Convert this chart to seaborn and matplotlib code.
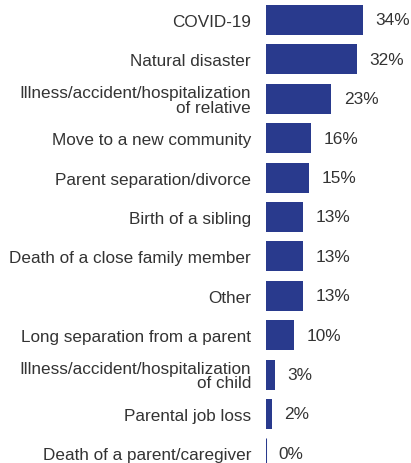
import matplotlib
matplotlib.use("Agg")
import matplotlib.pyplot as plt
import seaborn as sns
import pandas as pd

# Chart data
categories = [
    "COVID-19",
    "Natural disaster",
    "Illness/accident/hospitalization\nof relative",
    "Move to a new community",
    "Parent separation/divorce",
    "Birth of a sibling",
    "Death of a close family member",
    "Other",
    "Long separation from a parent",
    "Illness/accident/hospitalization\nof child",
    "Parental job loss",
    "Death of a parent/caregiver",
]
percents = [34, 32, 23, 16, 15, 13, 13, 13, 10, 3, 2, 0]

BAR_COLOR = "#293a8d"
TEXT_COLOR = "#333333"

df = pd.DataFrame({"category": categories, "percent": percents})

sns.set_theme(style="white")
plt.rcParams["font.family"] = ["Liberation Sans", "DejaVu Sans"]

fig = plt.figure(figsize=(4.11, 4.64), dpi=100)
ax = fig.add_axes([266 / 411, 0, 145 / 411, 1])

sns.barplot(data=df, x="percent", y="category", orient="h", color=BAR_COLOR,
            saturation=1, width=0.76, ax=ax)

# zero-width bars still show as a thin line
for p in ax.patches:
    p.set_edgecolor(BAR_COLOR)
    p.set_linewidth(0.75 if p.get_width() == 0 else 0)

ax.bar_label(ax.containers[0], labels=[f"{v}%" for v in percents],
             padding=9, fontsize=12.4, color=TEXT_COLOR)

ax.set_xlim(0, 51)
ax.set_ylim(11.244, -0.533)
ax.set_xlabel("")
ax.set_ylabel("")
ax.set_xticks([])
ax.tick_params(axis="y", length=0, pad=10.8, labelsize=12.3, labelcolor=TEXT_COLOR)
for lbl in ax.get_yticklabels():
    lbl.set_linespacing(0.95)
sns.despine(ax=ax, left=True, bottom=True)

fig.savefig("out.png", dpi=100)
